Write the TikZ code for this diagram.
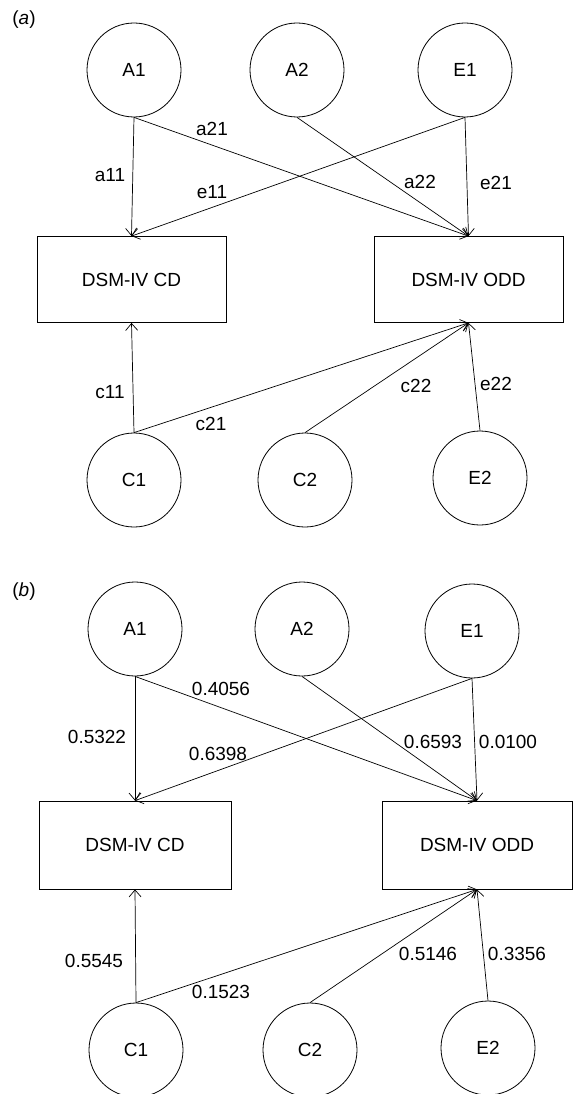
\documentclass[tikz,border=0pt]{standalone}
\usepackage{fontspec}
\setmainfont{Liberation Sans}
\usepackage{tikz}
\usetikzlibrary{arrows.meta}

\tikzset{
  latent/.style={draw, circle, line width=0.8pt, minimum size=94pt, inner sep=0pt,
    font=\fontsize{19}{22}\selectfont},
  observed/.style={draw, rectangle, line width=0.8pt, minimum width=189pt, minimum height=86pt,
    inner sep=0pt, font=\fontsize{19}{22}\selectfont},
  loading/.style={line width=0.7pt, -{Straight Barb[length=7pt,width=12pt]}},
  lbl/.style={inner sep=0pt, font=\fontsize{19}{22}\selectfont}
}

\begin{document}
\begin{tikzpicture}[x=1pt, y=-1pt]
   \useasboundingbox (0,0) rectangle (573,1094);

   % (a) model
   \node[lbl] (pa) at (24,20) {(\textit{a})};
   \node[latent] (A1a) at (134,70) {A1};
   \node[latent] (A2a) at (297,70) {A2};
   \node[latent] (E1a) at (465,70) {E1};
   \node[observed] (CDa) at (131.5,279.5) {DSM-IV CD};
   \node[observed] (ODDa) at (468.5,279.5) {DSM-IV ODD};
   \node[latent] (C1a) at (134,480) {C1};
   \node[latent] (C2a) at (305,480) {C2};
   \node[latent] (E2a) at (480,478) {E2};

   % (b) estimates
   \node[lbl] (pb) at (24,592) {(\textit{b})};
   \node[latent] (A1b) at (135,629) {A1};
   \node[latent] (A2b) at (302,629) {A2};
   \node[latent] (E1b) at (472,631) {E1};
   \node[observed, minimum width=192pt, minimum height=88pt] (CDb) at (135,845) {DSM-IV CD};
   \node[observed, minimum width=190pt, minimum height=88pt] (ODDb) at (477,845) {DSM-IV ODD};
   \node[latent] (C1b) at (136,1050) {C1};
   \node[latent] (C2b) at (310,1050) {C2};
   \node[latent] (E2b) at (488,1048) {E2};

   % paths
   \foreach \p in {a,b}{
      \foreach \from/\to in {A1/CD, A1/ODD, A2/ODD, E1/CD, E1/ODD}
         \draw[loading] (\from\p.south) -- (\to\p.north);
      \foreach \from/\to in {C1/CD, C1/ODD, C2/ODD, E2/ODD}
         \draw[loading] (\from\p.north) -- (\to\p.south);
   }

   % path labels
   \foreach \name/\x/\y/\txt in {
      la21/212/129/a21,
      la11/110/175/a11,
      le11/212/192/e11,
      la22/420/182/a22,
      le21/496/183/e21,
      lc11/110/392/c11,
      lc21/211/424/c21,
      lc22/416/386/c22,
      le22/496/384/e22,
      va21/221/689/0.4056,
      va11/97/737/0.5322,
      ve11/218/754/0.6398,
      va22/433/742/0.6593,
      ve21/508/742/0.0100,
      vc11/94/961/0.5545,
      vc21/221/992/0.1523,
      vc22/428/954/0.5146,
      ve22/517/954/0.3356
   }{
      \node[lbl] (\name) at (\x,\y) {\txt};
   }
\end{tikzpicture}
\end{document}
